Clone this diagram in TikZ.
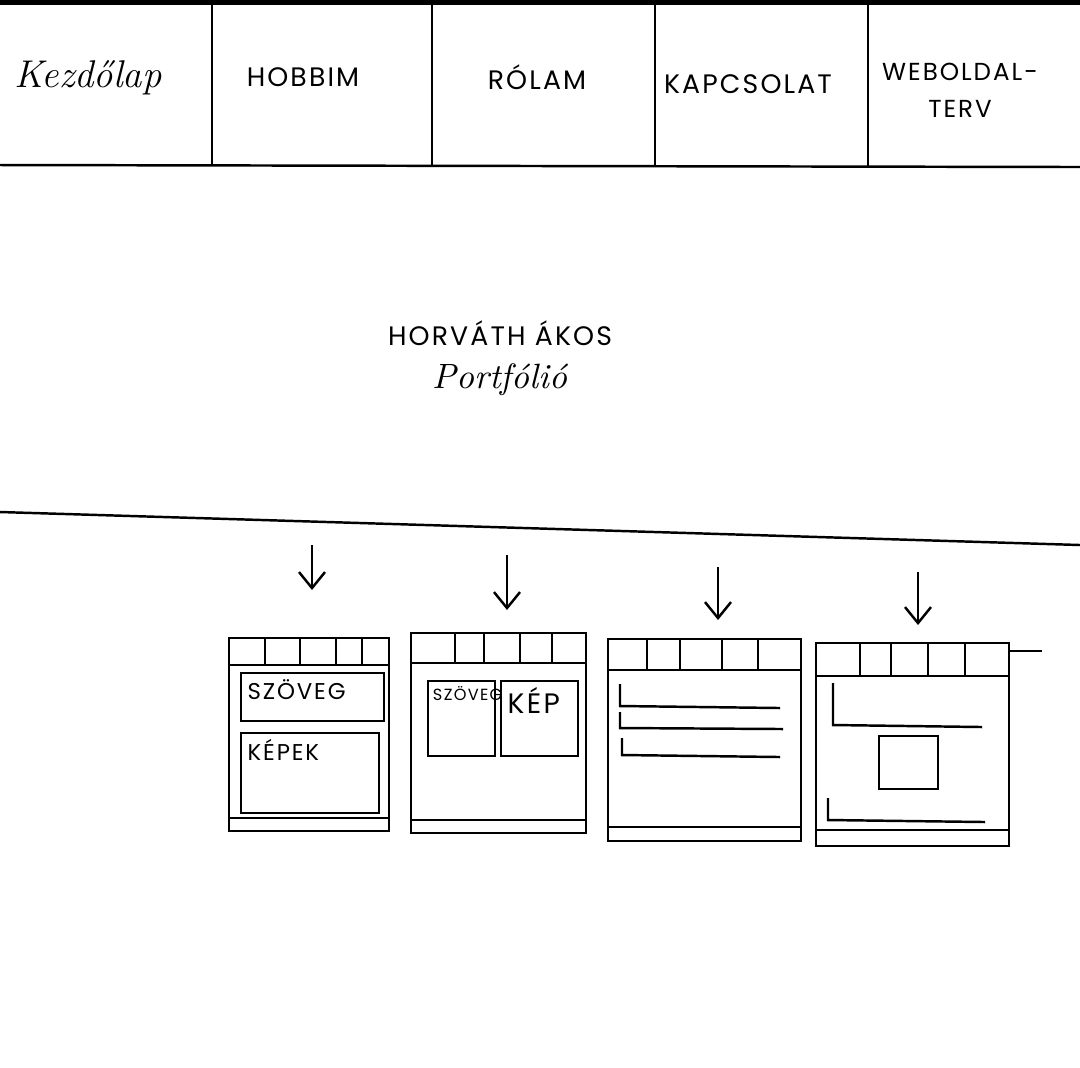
\documentclass[tikz,border=0pt]{standalone}
\usepackage{fontspec}
\newfontfamily\pencaps[LetterSpace=8]{Poppins}
\usepackage{tikz}
\usetikzlibrary{arrows.meta}
\usetikzlibrary{positioning}

\tikzstyle{pen} = [line width=0.7pt, black]
\tikzstyle{menuitem} = [font=\pencaps\fontsize{7.6}{11}\selectfont, align=center, inner sep=1pt]
\tikzstyle{handtext} = [font=\itshape\fontsize{11}{13}\selectfont, inner sep=1pt]
\tikzstyle{downarrow} = [pen, -{Straight Barb[length=1.6mm, width=2.6mm]}]
\tikzstyle{miniframe} = [draw, pen, inner sep=0pt, anchor=north west]
\tikzstyle{minibox} = [draw, pen, inner sep=0pt, anchor=north west]
\tikzstyle{minilabel} = [font=\pencaps\fontsize{6.5}{8}\selectfont, anchor=north west, inner sep=2pt]

\begin{document}
\begin{tikzpicture}

\useasboundingbox (0,0) rectangle (10.8,-10.67);
\fill[white] (0,0) rectangle (10.8,-10.67);

% header
\fill[black] (0,0) rectangle (10.8,-0.05);
\draw[pen] (0,-1.65) -- (10.8,-1.67);
\foreach \x in {2.12,4.32,6.55,8.68}
    \draw[pen] (\x,-0.05) -- (\x,-1.66);

\node [handtext] (home) at (0.88,-0.78) {Kezdőlap};
\node [menuitem] (hobby) at (3.03,-0.77) {HOBBIM};
\node [menuitem] (about) at (5.37,-0.77) {RÓLAM};
\node [menuitem] (contact) at (7.48,-0.84) {KAPCSOLAT};
\node [menuitem,
    font=\pencaps\fontsize{7}{10.5}\selectfont
] (plan) at (9.60,-0.90) {WEBOLDAL-\\TERV};

% hero
\node [menuitem] (name) at (5.00,-3.33) {HORVÁTH ÁKOS};
\node [handtext,
    font=\itshape\fontsize{10}{12}\selectfont,
    below=0.1cm of name
] (portfolio) {Portfólió};

\draw[pen] (0,-5.12) -- (10.8,-5.45);

% arrows
\coordinate (a1) at (3.12,-5.45);
\coordinate (b1) at (3.12,-5.90);
\coordinate (a2) at (5.07,-5.55);
\coordinate (b2) at (5.07,-6.10);
\coordinate (a3) at (7.18,-5.67);
\coordinate (b3) at (7.18,-6.20);
\coordinate (a4) at (9.18,-5.72);
\coordinate (b4) at (9.18,-6.25);
\draw[downarrow] (a1) -- (b1);
\draw[downarrow] (a2) -- (b2);
\draw[downarrow] (a3) -- (b3);
\draw[downarrow] (a4) -- (b4);

% page 1
\node [miniframe,
    minimum width=1.60cm,
    minimum height=1.93cm
] (page1) at (2.28,-6.37) {};
\begin{scope}[shift={(page1.north west)}]
    \draw[pen] (0,-0.28) -- (1.60,-0.28);
    \foreach \x in {0.37,0.72,1.08,1.34}
        \draw[pen] (\x,0) -- (\x,-0.28);
    \node [minibox,
        minimum width=1.43cm,
        minimum height=0.48cm
    ] (textbox1) at (0.12,-0.35) {};
    \node [minibox,
        minimum width=1.38cm,
        minimum height=0.80cm
    ] (imgbox1) at (0.12,-0.95) {};
    \draw[pen] (0,-1.81) -- (1.60,-1.81);
\end{scope}
\node [minilabel] (textlbl1) at (textbox1.north west) {SZÖVEG};
\node [minilabel] (imglbl1) at (imgbox1.north west) {KÉPEK};

% page 2
\node [miniframe,
    minimum width=1.75cm,
    minimum height=2.00cm
] (page2) at (4.10,-6.32) {};
\begin{scope}[shift={(page2.north west)}]
    \draw[pen] (0,-0.31) -- (1.75,-0.31);
    \foreach \x in {0.45,0.74,1.10,1.42}
        \draw[pen] (\x,0) -- (\x,-0.31);
    \node [minibox,
        minimum width=0.67cm,
        minimum height=0.75cm
    ] (textbox2) at (0.17,-0.48) {};
    \node [minibox,
        minimum width=0.77cm,
        minimum height=0.75cm
    ] (imgbox2) at (0.90,-0.48) {};
    \draw[pen] (0,-1.88) -- (1.75,-1.88);
\end{scope}
\node [minilabel,
    font=\pencaps\fontsize{4.6}{6}\selectfont,
    inner sep=1.5pt
] (textlbl2) at (textbox2.north west) {SZÖVEG};
\node [minilabel,
    font=\pencaps\fontsize{8}{9}\selectfont
] (imglbl2) at (imgbox2.north west) {KÉP};

% page 3
\node [miniframe,
    minimum width=1.93cm,
    minimum height=2.02cm
] (page3) at (6.07,-6.38) {};
\begin{scope}[shift={(page3.north west)}]
    \draw[pen] (0,-0.32) -- (1.93,-0.32);
    \foreach \x in {0.40,0.73,1.15,1.51}
        \draw[pen] (\x,0) -- (\x,-0.32);
    \draw[pen] (0.13,-0.46) -- (0.13,-0.68) -- (1.73,-0.70);
    \draw[pen] (0.13,-0.74) -- (0.13,-0.90) -- (1.76,-0.91);
    \draw[pen] (0.15,-1.00) -- (0.15,-1.17) -- (1.73,-1.19);
    \draw[pen] (0,-1.89) -- (1.93,-1.89);
\end{scope}

% page 4
\node [miniframe,
    minimum width=1.93cm,
    minimum height=2.03cm
] (page4) at (8.15,-6.42) {};
\begin{scope}[shift={(page4.north west)}]
    \draw[pen] (0,-0.34) -- (1.93,-0.34);
    \draw[pen] (1.93,-0.09) -- (2.27,-0.09);
    \foreach \x in {0.45,0.76,1.13,1.50}
        \draw[pen] (\x,0) -- (\x,-0.34);
    \draw[pen] (0.18,-0.41) -- (0.18,-0.83) -- (1.67,-0.85);
    \node [minibox,
        minimum width=0.59cm,
        minimum height=0.53cm
    ] (imgbox4) at (0.63,-0.93) {};
    \draw[pen] (0.13,-1.56) -- (0.13,-1.78) -- (1.70,-1.80);
    \draw[pen] (0,-1.88) -- (1.93,-1.88);
\end{scope}

\end{tikzpicture}
\end{document}
